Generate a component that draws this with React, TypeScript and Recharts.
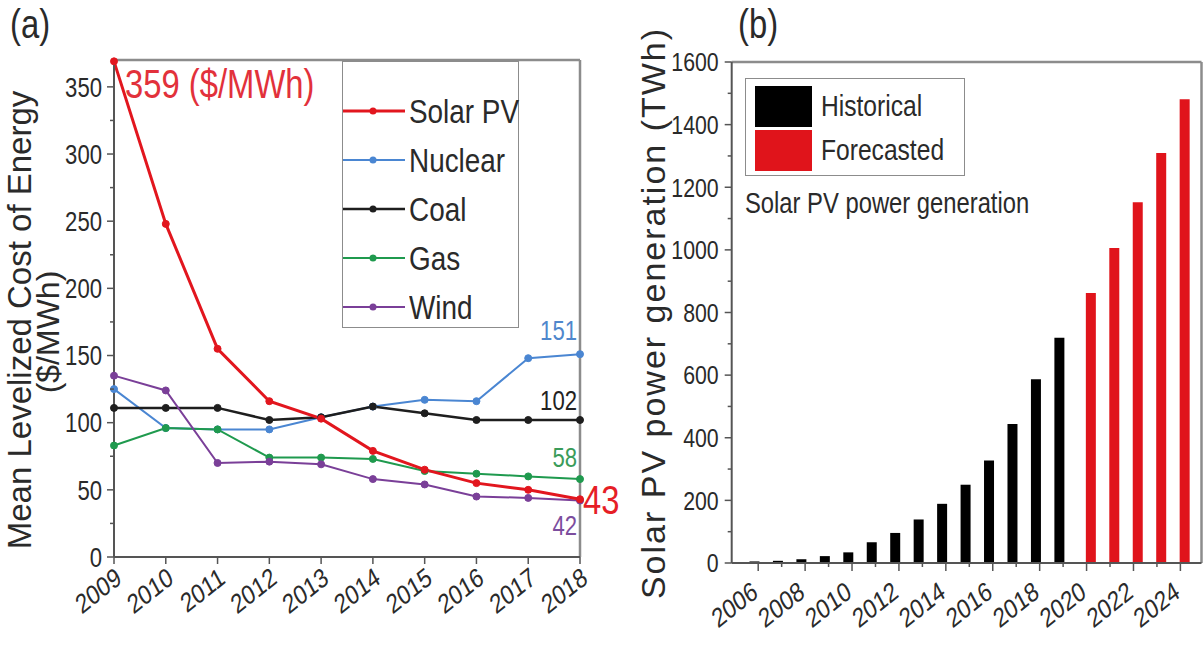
import React from "react";
import {
  Bar,
  BarChart,
  LabelList,
  Legend,
  Line,
  LineChart,
  ReferenceLine,
  XAxis,
  YAxis,
} from "recharts";

// no narrow face is installed, so horizontal text is squeezed to look condensed
const SANS = "'Liberation Sans', Arial, sans-serif";
const SQUEEZE = 0.82;
const INK = "#2a2a2a";
const AXIS = "#555";
const FRAME = "#8c8c8c";

// (a) mean levelized cost of energy, $/MWh
const years = [2009, 2010, 2011, 2012, 2013, 2014, 2015, 2016, 2017, 2018];
const solarPV = [369, 248, 155, 116, 103, 79, 65, 55, 50, 43];
const nuclear = [125, 96, 95, 95, 104, 112, 117, 116, 148, 151];
const coal = [111, 111, 111, 102, 104, 112, 107, 102, 102, 102];
const gas = [83, 96, 95, 74, 74, 73, 64, 62, 60, 58];
const wind = [135, 124, 70, 71, 69, 58, 54, 45, 44, 42];
const costTicks = [0, 25, 50, 75, 100, 125, 150, 175, 200, 225, 250, 275, 300, 325, 350];
const costMajor = [0, 50, 100, 150, 200, 250, 300, 350];
const solarStartNote = "359 ($/MWh)";

// (b) solar PV power generation, TWh
const genYears = [
  2006, 2007, 2008, 2009, 2010, 2011, 2012, 2013, 2014, 2015, 2016, 2017, 2018, 2019,
  2020, 2021, 2022, 2023, 2024,
];
const historical = [
  5, 7, 12, 22, 34, 66, 96, 139, 189, 250, 327, 444, 587, 719, null, null, null, null, null,
];
const forecasted = [
  null, null, null, null, null, null, null, null, null, null, null, null, null, null,
  862, 1006, 1152, 1309, 1481,
];
const genTicks = [0, 100, 200, 300, 400, 500, 600, 700, 800, 900, 1000, 1100, 1200, 1300, 1400, 1500, 1600];
const genMajor = [0, 200, 400, 600, 800, 1000, 1200, 1400, 1600];

const costData = years.map((year, i) => ({
  year,
  solar: solarPV[i],
  nuclear: nuclear[i],
  coal: coal[i],
  gas: gas[i],
  wind: wind[i],
}));

const genData = genYears.map((year, i) => ({
  year,
  historical: historical[i],
  forecasted: forecasted[i],
}));

type Series = {
  key: string;
  name: string;
  values: number[];
  color: string;
  width: number;
  label: { dx: number; dy: number; anchor: "start" | "end"; size: number; color: string };
};

const costSeries: Series[] = [
  { key: "solar", name: "Solar PV", values: solarPV, color: "#e2161e", width: 3,
    label: { dx: 3, dy: 15, anchor: "start", size: 40, color: "#e61e26" } },
  { key: "nuclear", name: "Nuclear", values: nuclear, color: "#4a86d2", width: 2,
    label: { dx: -3, dy: -14, anchor: "end", size: 27, color: "#4f87cc" } },
  { key: "coal", name: "Coal", values: coal, color: "#1e1e1e", width: 2.5,
    label: { dx: -3, dy: -10, anchor: "end", size: 27, color: "#222" } },
  { key: "gas", name: "Gas", values: gas, color: "#1f9a4e", width: 2,
    label: { dx: -3, dy: -12, anchor: "end", size: 27, color: "#3a9c5a" } },
  { key: "wind", name: "Wind", values: wind, color: "#7a3f98", width: 2,
    label: { dx: -3, dy: 34, anchor: "end", size: 27, color: "#7c4d9e" } },
];
// solar drawn last so it sits on top
const drawOrder = ["nuclear", "coal", "gas", "wind", "solar"];

// svg text, condensed horizontally; optional rotation is applied before the squeeze
const SqText = ({ x, y, size, fill = INK, anchor = "start", rotate = 0, dy, children }: any) => (
  <text
    transform={`translate(${x}, ${y}) scale(${SQUEEZE}, 1) rotate(${rotate})`}
    textAnchor={anchor}
    fontFamily={SANS}
    fontSize={size}
    fill={fill}
    dy={dy}
  >
    {children}
  </text>
);

const sqSpan = (size: number): React.CSSProperties => ({
  display: "inline-block",
  fontFamily: SANS,
  fontSize: size,
  lineHeight: 1,
  color: INK,
  whiteSpace: "nowrap",
  transform: `scaleX(${SQUEEZE})`,
  transformOrigin: "0 50%",
});

const makeSeriesLabel = (s: Series) => (props: any) => {
  const { x, y, index } = props;
  if (x == null || y == null) return null;
  const last = s.values.length - 1;
  if (index === last) {
    return (
      <SqText x={x + s.label.dx} y={y + s.label.dy} anchor={s.label.anchor} fill={s.label.color} size={s.label.size}>
        {s.values[index]}
      </SqText>
    );
  }
  if (s.key === "solar" && index === 0) {
    return (
      <SqText x={x + 11} y={y + 37} fill="#e2313b" size={40}>
        {solarStartNote}
      </SqText>
    );
  }
  return null;
};

const CostValueTick = ({ x, y, payload }: any) => {
  const major = costMajor.includes(payload.value);
  return (
    <g>
      <line x1={x} x2={x - (major ? 7 : 4)} y1={y} y2={y} stroke={AXIS} strokeWidth={1.5} />
      {major && (
        <SqText x={x - 12} y={y} dy="0.36em" anchor="end" size={27}>
          {payload.value}
        </SqText>
      )}
    </g>
  );
};

const GenValueTick = ({ x, y, payload }: any) => {
  const major = genMajor.includes(payload.value);
  return (
    <g>
      <line x1={x} x2={x - (major ? 7 : 4)} y1={y} y2={y} stroke={AXIS} strokeWidth={1.5} />
      {major && (
        <SqText x={x - 13} y={y} dy="0.36em" anchor="end" size={26}>
          {payload.value}
        </SqText>
      )}
    </g>
  );
};

const CostYearTick = ({ x, y, payload }: any) => (
  <g>
    <line x1={x} x2={x} y1={y} y2={y + 7} stroke={AXIS} strokeWidth={1.5} />
    <SqText x={x + 9} y={y + 25} anchor="end" rotate={-33} size={27}>
      {payload.value}
    </SqText>
  </g>
);

const GenYearTick = ({ x, y, payload }: any) => {
  const major = payload.value % 2 === 0;
  return (
    <g>
      <line x1={x} x2={x} y1={y} y2={y + (major ? 8 : 4)} stroke={AXIS} strokeWidth={1.5} />
      {major && (
        <SqText x={x + 1} y={y + 33} anchor="end" rotate={-33} size={27}>
          {payload.value}
        </SqText>
      )}
    </g>
  );
};

const CostAxisTitle = () => (
  <g fontFamily={SANS} fontSize={33} fill={INK} textAnchor="middle">
    <text transform="translate(31, 320) rotate(-90)">Mean Levelized Cost of Energy</text>
    <text transform="translate(59, 332) rotate(-90)" fontSize={32}>($/MWh)</text>
  </g>
);

const GenAxisTitle = () => (
  <g fontFamily={SANS} fontSize={34} fill={INK} textAnchor="middle">
    <text transform="translate(45, 313) rotate(-90)" letterSpacing={2}>
      Solar PV power generation (TWh)
    </text>
  </g>
);

const CostLegend = () => (
  <div
    style={{
      width: 177,
      height: 267,
      boxSizing: "border-box",
      border: `1.5px solid ${FRAME}`,
      background: "#fff",
      paddingTop: 24,
    }}
  >
    {costSeries.map((s) => (
      <div key={s.key} style={{ display: "flex", alignItems: "center", height: 49 }}>
        <svg width={62} height={12} style={{ display: "block", flex: "none" }}>
          <line x1={0} x2={62} y1={6} y2={6} stroke={s.color} strokeWidth={s.width} />
          <circle cx={30} cy={6} r={3.5} fill={s.color} />
        </svg>
        <span style={{ ...sqSpan(34), marginLeft: 4 }}>{s.name}</span>
      </div>
    ))}
  </div>
);

const genSeries = [
  { key: "historical", name: "Historical", color: "#000000" },
  { key: "forecasted", name: "Forecasted", color: "#e0141b" },
];

const GenLegend = () => (
  <div>
    <div
      style={{
        width: 220,
        height: 98,
        boxSizing: "border-box",
        border: `1.5px solid ${FRAME}`,
        background: "#fff",
        padding: "5px 0 0 9px",
      }}
    >
      {genSeries.map((s) => (
        <div key={s.key} style={{ display: "flex", alignItems: "center", height: 44 }}>
          <div style={{ width: 57, height: 41, background: s.color, flex: "none" }} />
          <span style={{ ...sqSpan(30), marginLeft: 9 }}>{s.name}</span>
        </div>
      ))}
    </div>
    <div style={{ marginTop: 13, height: 30 }}>
      <span style={sqSpan(29)}>Solar PV power generation</span>
    </div>
  </div>
);

const panelTag: React.CSSProperties = {
  position: "absolute",
  top: 4,
  fontFamily: SANS,
  fontSize: 40,
  lineHeight: 1,
  color: INK,
  transform: `scaleX(${SQUEEZE})`,
  transformOrigin: "0 50%",
};

export default function App() {
  return (
    <div style={{ position: "relative", width: 1203, height: 646, background: "#fff", overflow: "hidden" }}>
      <style>{"body { margin: 0; }"}</style>

      <div style={{ position: "absolute", left: 0, top: 0 }}>
        <LineChart width={640} height={646} data={costData} margin={{ top: 60, right: 60, bottom: 9, left: 44 }}>
          <XAxis
            dataKey="year"
            type="number"
            domain={[2009, 2018]}
            ticks={years}
            interval={0}
            height={80}
            tickSize={0}
            tickMargin={0}
            tickLine={false}
            tick={CostYearTick}
            axisLine={{ stroke: AXIS, strokeWidth: 2 }}
          />
          <YAxis
            type="number"
            domain={[0, 370]}
            ticks={costTicks}
            interval={0}
            width={70}
            tickSize={0}
            tickMargin={0}
            tickLine={false}
            tick={CostValueTick}
            axisLine={{ stroke: AXIS, strokeWidth: 2 }}
            label={CostAxisTitle}
          />
          <ReferenceLine y={370} stroke={FRAME} strokeWidth={2.5} />
          <ReferenceLine x={2018} stroke={FRAME} strokeWidth={2.5} />
          <Legend
            content={CostLegend}
            layout="vertical"
            align="center"
            verticalAlign="middle"
            wrapperStyle={{ left: 342, top: 61, width: 177, height: 267 }}
          />
          {drawOrder.map((k) => {
            const s = costSeries.find((c) => c.key === k)!;
            return (
              <Line
                key={s.key}
                dataKey={s.key}
                name={s.name}
                type="linear"
                stroke={s.color}
                strokeWidth={s.width}
                dot={{ r: 3.5, fill: s.color, stroke: s.color, strokeWidth: 1 }}
                isAnimationActive={false}
              >
                <LabelList dataKey={s.key} content={makeSeriesLabel(s)} />
              </Line>
            );
          })}
        </LineChart>
      </div>

      <div style={{ position: "absolute", left: 620, top: 0 }}>
        <BarChart
          width={583}
          height={646}
          data={genData}
          barGap={-2}
          margin={{ top: 62, right: 1.5, bottom: 8, left: 31.7 }}
        >
          <XAxis
            dataKey="year"
            type="number"
            domain={[2004.87, 2024.9]}
            ticks={genYears}
            interval={0}
            height={75}
            tickSize={0}
            tickMargin={0}
            tickLine={false}
            tick={GenYearTick}
            axisLine={{ stroke: AXIS, strokeWidth: 2 }}
          />
          <YAxis
            type="number"
            domain={[0, 1600]}
            ticks={genTicks}
            interval={0}
            width={80}
            tickSize={0}
            tickMargin={0}
            tickLine={false}
            tick={GenValueTick}
            axisLine={{ stroke: AXIS, strokeWidth: 2 }}
            label={GenAxisTitle}
          />
          <ReferenceLine y={1600} stroke={FRAME} strokeWidth={2.5} />
          <ReferenceLine x={2024.9} stroke={FRAME} strokeWidth={2.5} />
          <Legend
            content={GenLegend}
            layout="vertical"
            align="center"
            verticalAlign="middle"
            wrapperStyle={{ left: 125, top: 78, width: 320, height: 160 }}
          />
          {genSeries.map((s) => (
            <Bar key={s.key} dataKey={s.key} name={s.name} fill={s.color} barSize={10} isAnimationActive={false} />
          ))}
        </BarChart>
      </div>

      <div style={{ ...panelTag, left: 10 }}>(a)</div>
      <div style={{ ...panelTag, left: 738 }}>(b)</div>
    </div>
  );
}
